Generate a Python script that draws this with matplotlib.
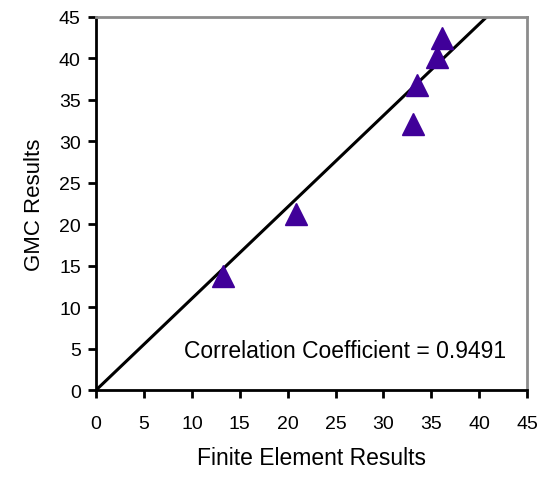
import matplotlib
matplotlib.use("Agg")
import matplotlib.pyplot as plt

# Finite element vs GMC results
fe_results = [13.2, 20.9, 33.1, 33.5, 35.6, 36.1]
gmc_results = [13.7, 21.2, 32.1, 36.8, 40.2, 42.5]
line_slope = 1.103
ticks = [0, 5, 10, 15, 20, 25, 30, 35, 40, 45]
corr_label = "Correlation Coefficient = 0.9491"

plt.rcParams["font.family"] = ["Liberation Sans", "DejaVu Sans"]

fig = plt.figure(figsize=(5.4, 4.81), dpi=100)
ax = fig.add_axes([0.178, 0.187, 0.798, 0.776])

ax.plot([0, 45 / line_slope], [0, 45], color="black", linewidth=2.2, zorder=2)
ax.plot(fe_results, gmc_results, linestyle="none", marker="^", markersize=16,
        color="#400099", zorder=3)

ax.text(26.0, 4.8, corr_label, fontsize=16.5, va="center", ha="center")

ax.set_xlim(0, 45)
ax.set_ylim(0, 45)
ax.set_xticks(ticks)
ax.set_yticks(ticks)
ax.tick_params(direction="out", length=6, width=2, labelsize=14)
ax.tick_params(axis="x", pad=12)
ax.tick_params(axis="y", pad=5)

for side in ("left", "bottom"):
    ax.spines[side].set_linewidth(2)
    ax.spines[side].set_color("black")
for side in ("top", "right"):
    ax.spines[side].set_linewidth(2)
    ax.spines[side].set_color("#8c8c8c")

ax.set_xlabel("Finite Element Results", fontsize=16.5, labelpad=10)
ax.set_ylabel("GMC Results", fontsize=16, labelpad=10)

fig.savefig("out.png", dpi=100)
